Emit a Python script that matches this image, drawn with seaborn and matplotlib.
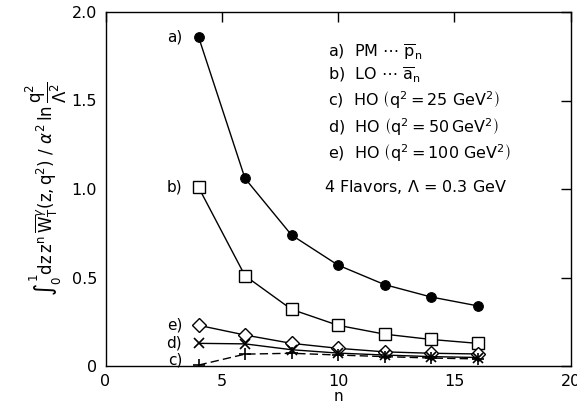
import matplotlib
matplotlib.use("Agg")
import matplotlib.pyplot as plt
import seaborn as sns
import pandas as pd
import numpy as np

n_vals = [4, 6, 8, 10, 12, 14, 16]
a_pm = [1.86, 1.06, 0.74, 0.57, 0.46, 0.39, 0.34]
b_lo = [1.01, 0.51, 0.32, 0.23, 0.18, 0.15, 0.128]
c_ho25 = [0.005, 0.067, 0.072, 0.062, 0.053, 0.045, 0.040]
d_ho50 = [0.128, 0.125, 0.092, 0.073, 0.062, 0.053, 0.048]
e_ho100 = [0.23, 0.175, 0.128, 0.10, 0.08, 0.072, 0.068]

xticks = [0, 5, 10, 15, 20]
xtick_labels = ["0", "5", "10", "15", "20"]
yticks = [0, 0.5, 1.0, 1.5, 2.0]
ytick_labels = ["0", "0.5", "1.0", "1.5", "2.0"]

legend_lines = [
    r"a)  PM $\cdots$ $\overline{\mathrm{p}}_\mathrm{n}$",
    r"b)  LO $\cdots$ $\overline{\mathrm{a}}_\mathrm{n}$",
    r"c)  HO $\left(\mathrm{q}^2 = 25\ \mathrm{GeV}^2\right)$",
    r"d)  HO $\left(\mathrm{q}^2 = 50\,\mathrm{GeV}^2\right)$",
    r"e)  HO $\left(\mathrm{q}^2 = 100\ \mathrm{GeV}^2\right)$",
]
note = r"4 Flavors, $\Lambda$ = 0.3 GeV"

sns.set_theme(style="white")
plt.rcParams['font.family'] = ['DejaVu Sans']
plt.rcParams['mathtext.fontset'] = 'dejavusans'
plt.rcParams['text.color'] = 'black'
plt.rcParams['axes.labelcolor'] = 'black'

fig = plt.figure(figsize=(5.77, 4.08), dpi=100)
ax = fig.add_axes([105.5/577, 1 - 366/408, (570.5-105.5)/577, (366-12)/408])

series = [
    ("a", a_pm, dict(marker="o", markersize=7, markerfacecolor="black", markeredgecolor="black")),
    ("b", b_lo, dict(marker="s", markersize=8, markerfacecolor="white", markeredgecolor="black", markeredgewidth=1.0)),
    ("e", e_ho100, dict(marker="D", markersize=7, markerfacecolor="white", markeredgecolor="black", markeredgewidth=1.0)),
    ("d", d_ho50, dict(marker="x", markersize=7, markeredgecolor="black", markeredgewidth=1.2)),
    ("c", c_ho25, dict(marker="+", markersize=8, markeredgecolor="black", markeredgewidth=1.2)),
]
for name, vals, kw in series:
    df = pd.DataFrame({"n": n_vals, "v": vals})
    ls = (0, (6, 3)) if name == "c" else "-"
    sns.lineplot(data=df, x="n", y="v", ax=ax, color="black", linewidth=1.0,
                 linestyle=ls, **kw)

ax.set_xlim(0, 20)
ax.set_ylim(0, 2.0)
ax.set_xticks(xticks)
ax.set_xticklabels(xtick_labels)
ax.set_yticks(yticks)
ax.set_yticklabels(ytick_labels)
ax.tick_params(direction="in", length=7, width=1, top=True, right=True,
               labelsize=11.5, colors="black", pad=6)
for s in ax.spines.values():
    s.set_color("black")
    s.set_linewidth(1.0)

ax.set_xlabel("n", fontsize=11, labelpad=0, color="black")
ax.set_ylabel(r"$\int_0^1 \mathrm{dz\,z^n}\,\overline{\mathrm{W}}_\mathrm{T}^{\gamma}(\mathrm{z,q^2})\ /\ \alpha^2\,\mathrm{ln}\,\dfrac{\mathrm{q^2}}{\Lambda^2}$",
              fontsize=12, labelpad=2, color="black")

# curve labels
ax.text(3.3, a_pm[0], "a)", ha="right", va="center", fontsize=11, color="black")
ax.text(3.3, b_lo[0], "b)", ha="right", va="center", fontsize=11, color="black")
ax.text(3.3, e_ho100[0], "e)", ha="right", va="center", fontsize=11, color="black")
ax.text(3.3, d_ho50[0], "d)", ha="right", va="center", fontsize=11, color="black")
ax.text(3.3, c_ho25[0] + 0.03, "c)", ha="right", va="center", fontsize=11, color="black")

ys = [1.77, 1.64, 1.50, 1.35, 1.20]
for t, y in zip(legend_lines, ys):
    ax.text(9.55, y, t, ha="left", va="center", fontsize=11.5, color="black")
ax.text(9.4, 1.01, note, ha="left", va="center", fontsize=11.5, color="black")

fig.savefig("out.png", dpi=100)
